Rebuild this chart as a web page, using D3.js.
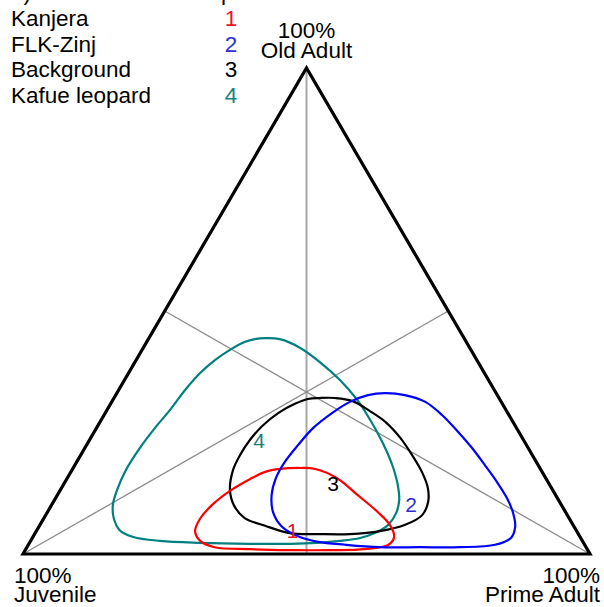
<!DOCTYPE html>
<html>
<head>
<meta charset="utf-8">
<script src="https://cdn.jsdelivr.net/npm/d3@7"></script>
<style>
  html, body { margin: 0; padding: 0; background: #fff; }
  svg { display: block; font-family: "Liberation Sans", Arial, sans-serif; }
</style>
</head>
<body>
<svg id="chart" width="604" height="607"></svg>
<script>
// Mortality-profile contours in a juvenile / prime adult / old adult ternary plot.
// Each point is [juvenile %, prime adult %, old adult %].
const groupNames = ["Kanjera", "FLK-Zinj", "Background", "Kafue leopard"];
const groupIds = ["1", "2", "3", "4"];
const groupColors = ["#ff0000", "#0000ff", "#000000", "#008080"];
const labelColors = ["#e8141e", "#2e2ed2", "#000000", "#17807d"];

const kanjera = [
  [45.9,36.6,17.5],[42.3,40.0,17.7],[39.7,42.8,17.5],[36.8,47.6,15.6],[34.9,53.0,12.1],
  [33.1,58.3,8.6],[32.3,61.7,6.0],[32.8,63.7,3.5],[34.6,63.5,1.9],[39.2,59.8,1.0],
  [45.5,53.7,0.8],[52.5,46.7,0.8],[59.5,39.5,1.0],[65.5,33.1,1.4],[67.4,29.9,2.7],
  [67.3,28.0,4.7],[65.2,27.6,7.2],[61.6,28.3,10.1],[57.0,30.0,13.0],[52.3,32.3,15.4],
  [48.8,34.3,16.9]
];
const flkZinj = [
  [19.6,47.3,33.1],[16.3,51.0,32.7],[13.4,55.3,31.3],[11.8,59.6,28.6],[10.7,64.2,25.1],
  [9.9,68.3,21.8],[9.4,72.3,18.3],[9.0,76.2,14.8],[8.9,79.6,11.5],[9.3,82.1,8.6],
  [10.4,84.0,5.6],[12.3,84.4,3.3],[15.8,82.3,1.9],[22.3,76.3,1.4],[29.3,69.3,1.4],
  [36.4,62.2,1.4],[42.2,55.9,1.9],[46.7,50.8,2.5],[49.8,46.5,3.7],[51.6,42.6,5.8],
  [51.6,39.8,8.6],[50.1,37.8,12.1],[47.6,36.8,15.6],[44.4,36.7,18.9],[40.3,37.3,22.4],
  [35.9,38.2,25.9],[31.0,40.0,29.0],[26.7,42.0,31.3],[22.8,44.5,32.7]
];
const background = [
  [31.6,36.3,32.1],[28.9,39.0,32.1],[26.2,42.3,31.5],[24.1,46.5,29.4],[22.5,50.3,27.2],
  [21.5,54.6,23.9],[21.2,58.4,20.4],[21.2,61.9,16.9],[21.8,64.6,13.6],[23.2,66.1,10.7],
  [25.6,66.4,8.0],[29.6,64.4,6.0],[34.7,60.6,4.7],[40.3,55.6,4.1],[45.6,50.3,4.1],
  [50.8,44.9,4.3],[54.4,39.8,5.8],[57.2,35.4,7.4],[57.8,32.3,9.9],[56.9,29.9,13.2],
  [54.3,28.4,17.3],[51.5,28.1,20.4],[48.2,28.3,23.5],[44.7,29.0,26.3],[40.5,30.5,29.0],
  [36.6,32.5,30.9],[33.8,34.3,31.9]
];
const kafueLeopard = [
  [35.1,20.5,44.4],[32.6,23.2,44.2],[29.9,27.7,42.4],[27.9,32.6,39.5],[26.2,38.0,35.8],
  [25.2,43.1,31.7],[25.0,46.4,28.6],[25.0,49.9,25.1],[25.3,53.7,21.0],[25.8,56.3,17.9],
  [26.8,59.0,14.2],[28.1,60.8,11.1],[30.0,61.6,8.4],[32.6,61.4,6.0],[35.8,59.9,4.3],
  [38.9,57.8,3.3],[42.7,54.6,2.7],[47.0,50.7,2.3],[51.8,46.1,2.1],[58.9,39.0,2.1],
  [67.6,30.1,2.3],[74.5,22.8,2.7],[78.8,17.7,3.5],[80.5,14.6,4.9],[80.3,12.3,7.4],
  [79.1,10.8,10.1],[76.8,10.0,13.2],[73.2,9.5,17.3],[68.5,9.7,21.8],[63.8,10.3,25.9],
  [59.3,11.1,29.6],[54.6,11.7,33.7],[50.2,12.6,37.2],[46.2,13.9,39.9],[42.5,15.5,42.0],
  [39.1,17.3,43.6],[37.0,18.8,44.2]
];
const contours = [kanjera, flkZinj, background, kafueLeopard];

// Positions of the numeric tags inside the plot, [juvenile %, prime %, old %]
const tagPositions = [[50.0,45.1,4.9],[26.5,63.4,10.1],[38.0,47.4,14.6],[46.7,30.0,23.3]];

// Vertex labels
const vertexTitles = ["Juvenile", "Prime Adult", "Old Adult"];
const vertexPercent = "100%";

const svg = d3.select("#chart");
const FONT = 22.5;

// Ternary frame: horizontal position runs along the base, vertical along the old-adult axis
const x = d3.scaleLinear().domain([0, 100]).range([23, 590]);
const y = d3.scaleLinear().domain([0, 100]).range([554, 68]);
const project = d => [x(d[1] + d[2] / 2), y(d[2])];

// Median lines from each vertex to the midpoint of the opposite side
const medians = [
  [[0, 0, 100], [50, 50, 0]],
  [[100, 0, 0], [0, 50, 50]],
  [[0, 100, 0], [50, 0, 50]]
];
svg.append("g").selectAll("line").data(medians).join("line")
  .attr("x1", d => project(d[0])[0]).attr("y1", d => project(d[0])[1])
  .attr("x2", d => project(d[1])[0]).attr("y2", d => project(d[1])[1])
  .attr("stroke", (d, i) => i === 0 ? "#a8a8a8" : "#8a8a8a")
  .attr("stroke-width", (d, i) => i === 0 ? 2 : 1.3);

// Triangle outline
const corners = [[100, 0, 0], [0, 100, 0], [0, 0, 100]];
svg.append("path")
  .attr("d", d3.line()(corners.map(project)) + "Z")
  .attr("fill", "none").attr("stroke", "#000").attr("stroke-width", 3.2)
  .attr("stroke-linejoin", "miter");

// Contours
const contourLine = d3.line().curve(d3.curveCatmullRomClosed.alpha(0.5));
const drawOrder = [3, 2, 0, 1];
svg.append("g").selectAll("path").data(drawOrder).join("path")
  .attr("d", i => contourLine(contours[i].map(project)))
  .attr("fill", "none")
  .attr("stroke", i => groupColors[i])
  .attr("stroke-width", 2.2);

// Numeric tags on the contours
svg.append("g").selectAll("text").data(tagPositions).join("text")
  .attr("x", d => project(d)[0]).attr("y", d => project(d)[1])
  .attr("dy", "0.36em")
  .attr("text-anchor", "middle")
  .attr("font-size", 21)
  .attr("fill", (d, i) => labelColors[i])
  .text((d, i) => groupIds[i]);

// Legend (its heading row sits at the very top edge)
const legend = svg.append("g").attr("font-size", FONT);
legend.append("text").attr("x", 11).attr("y", -0.5).text("b)");
legend.append("text").attr("x", 171).attr("y", -0.5).text("Groups");
const rowY = d3.scaleLinear().domain([0, 3]).range([26, 102.5]);
groupNames.forEach((name, i) => {
  legend.append("text").attr("x", 11).attr("y", rowY(i)).attr("fill", "#000").text(name);
  legend.append("text").attr("x", 231).attr("y", rowY(i)).attr("text-anchor", "middle")
    .attr("fill", labelColors[i]).text(groupIds[i]);
});

// Vertex labels
const vLabels = svg.append("g").attr("font-size", FONT);
const apexLabel = vLabels.append("text").attr("text-anchor", "middle");
apexLabel.append("tspan").attr("x", 306.5).attr("y", 38).text(vertexPercent);
apexLabel.append("tspan").attr("x", 306.5).attr("y", 58).text(vertexTitles[2]);
const leftLabel = vLabels.append("text").attr("text-anchor", "start");
leftLabel.append("tspan").attr("x", 14).attr("y", 583).text(vertexPercent);
leftLabel.append("tspan").attr("x", 14).attr("y", 602).text(vertexTitles[0]);
const rightLabel = vLabels.append("text").attr("text-anchor", "end");
rightLabel.append("tspan").attr("x", 600).attr("y", 583).text(vertexPercent);
rightLabel.append("tspan").attr("x", 600).attr("y", 602).text(vertexTitles[1]);
</script>
</body>
</html>
